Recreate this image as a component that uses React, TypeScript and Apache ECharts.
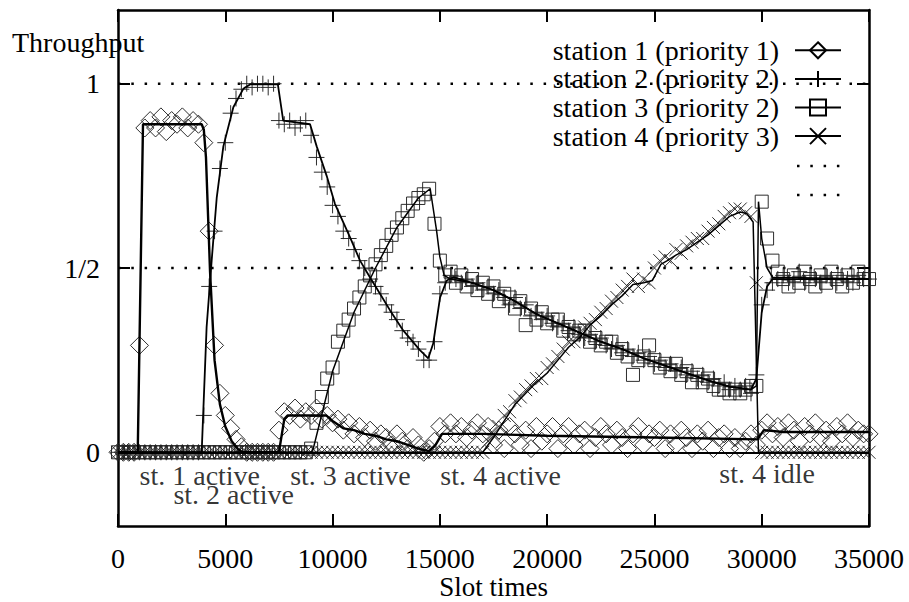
import React, { useEffect, useRef } from "react";
import * as echarts from "echarts";

const FONT = "'Liberation Serif', 'Times New Roman', serif";
const FS = 28;

// Sample grid (slot times) shared by the raw measurements
const slotTimes = [
  0, 250, 500, 750, 1000, 1250, 1500, 1750, 2000, 2250, 2500, 2750, 3000, 3250, 3500, 3750,
  4000, 4250, 4500, 4750, 5000, 5250, 5500, 5750, 6000, 6250, 6500, 6750, 7000, 7250, 7500, 7750,
  8000, 8250, 8500, 8750, 9000, 9250, 9500, 9750, 10000, 10250, 10500, 10750, 11000, 11250, 11500, 11750,
  12000, 12250, 12500, 12750, 13000, 13250, 13500, 13750, 14000, 14250, 14500, 14750, 15000, 15250, 15500, 15750,
  16000, 16250, 16500, 16750, 17000, 17250, 17500, 17750, 18000, 18250, 18500, 18750, 19000, 19250, 19500, 19750,
  20000, 20250, 20500, 20750, 21000, 21250, 21500, 21750, 22000, 22250, 22500, 22750, 23000, 23250, 23500, 23750,
  24000, 24250, 24500, 24750, 25000, 25250, 25500, 25750, 26000, 26250, 26500, 26750, 27000, 27250, 27500, 27750,
  28000, 28250, 28500, 28750, 29000, 29250, 29500, 29750, 30000, 30250, 30500, 30750, 31000, 31250, 31500, 31750,
  32000, 32250, 32500, 32750, 33000, 33250, 33500, 33750, 34000, 34250, 34500, 34750, 35000,
];

// Raw throughput samples (markers)
const station1Samples = [
  0, 0, 0, 0, 0.29, 0.88, 0.9, 0.88, 0.91, 0.87, 0.9, 0.89, 0.91, 0.88, 0.9, 0.89,
  0.84, 0.6, 0.29, 0.16, 0.1, 0.065, 0.035, 0.015, 0, 0, 0, 0, 0, 0, 0.06, 0.11,
  0.1, 0.12, 0.09, 0.11, 0.1, 0.12, 0.09, 0.1, 0.08, 0.09, 0.06, 0.08, 0.05, 0.07, 0.04, 0.06,
  0.03, 0.05, 0.04, 0.02, 0.05, 0.03, 0.01, 0.04, 0.02, 0, 0.01, 0.03, 0.07, 0.05, 0.08, 0.05,
  0.07, 0.04, 0.06, 0.08, 0.05, 0.07, 0.02, 0.06, 0.01, 0.07, 0.05, 0.02, 0.06, 0.01, 0.07, 0.03,
  0.05, 0.07, 0.01, 0.05, 0.07, 0.02, 0.05, 0.06, 0.01, 0.04, 0.07, 0.05, 0.02, 0.06, 0.04, 0.01,
  0.05, 0.07, 0.02, 0.05, 0.04, 0.06, 0.01, 0.05, 0.02, 0.06, 0.04, 0.01, 0.05, 0.03, 0.06, 0.01,
  0.04, 0.05, 0.01, 0.04, 0.01, 0.03, 0.05, 0.02, 0.06, 0.08, 0.05, 0.07, 0.04, 0.08, 0.06, 0.03,
  0.07, 0.05, 0.08, 0.04, 0.06, 0.03, 0.07, 0.05, 0.08, 0.04, 0.06, 0.05, 0.05,
];
const station2Samples = [
  0, 0, 0, 0, 0, 0, 0, 0, 0, 0, 0, 0, 0, 0, 0, 0,
  0.1, 0.45, 0.6, 0.77, 0.84, 0.92, 0.96, 0.985, 1.0, 0.99, 1.0, 1.0, 0.99, 1.0, 0.9, 0.89,
  0.9, 0.88, 0.89, 0.9, 0.86, 0.8, 0.76, 0.72, 0.67, 0.64, 0.6, 0.58, 0.55, 0.52, 0.5, 0.47,
  0.45, 0.43, 0.4, 0.38, 0.36, 0.33, 0.31, 0.3, 0.28, 0.25, 0.25, 0.3, 0.43, 0.46, 0.48, 0.47,
  0.46, 0.47, 0.45, 0.46, 0.44, 0.45, 0.43, 0.44, 0.42, 0.4, 0.42, 0.39, 0.4, 0.37, 0.38, 0.36,
  0.37, 0.35, 0.34, 0.35, 0.33, 0.34, 0.32, 0.31, 0.32, 0.3, 0.31, 0.29, 0.28, 0.29, 0.27, 0.28,
  0.26, 0.27, 0.25, 0.26, 0.24, 0.25, 0.23, 0.24, 0.22, 0.23, 0.21, 0.22, 0.2, 0.21, 0.19, 0.2,
  0.18, 0.19, 0.17, 0.18, 0.17, 0.18, 0.16, 0.21, 0.4, 0.44, 0.46, 0.47, 0.48, 0.46, 0.47, 0.49,
  0.46, 0.48, 0.47, 0.46, 0.48, 0.47, 0.46, 0.48, 0.47, 0.46, 0.48, 0.47, 0.47,
];
const station3Samples = [
  0, 0, 0, 0, 0, 0, 0, 0, 0, 0, 0, 0, 0, 0, 0, 0,
  0, 0, 0, 0, 0, 0, 0, 0, 0, 0, 0, 0, 0, 0, 0, 0,
  0, 0, 0, 0, 0.01, 0.08, 0.15, 0.2, 0.23, 0.3, 0.33, 0.36, 0.39, 0.42, 0.45, 0.48,
  0.51, 0.535, 0.56, 0.59, 0.61, 0.635, 0.655, 0.675, 0.69, 0.7, 0.715, 0.62, 0.52, 0.48, 0.49, 0.46,
  0.48, 0.45, 0.47, 0.44, 0.46, 0.43, 0.45, 0.41, 0.43, 0.42, 0.39, 0.41, 0.345, 0.39, 0.36, 0.38,
  0.35, 0.36, 0.36, 0.33, 0.34, 0.32, 0.33, 0.33, 0.3, 0.31, 0.29, 0.3, 0.3, 0.27, 0.28, 0.26,
  0.21, 0.25, 0.26, 0.29, 0.25, 0.23, 0.24, 0.22, 0.24, 0.21, 0.22, 0.19, 0.21, 0.19, 0.2, 0.18,
  0.17, 0.17, 0.16, 0.17, 0.16, 0.17, 0.18, 0.18, 0.68, 0.58, 0.52, 0.49, 0.47, 0.45, 0.48, 0.46,
  0.49, 0.47, 0.45, 0.48, 0.46, 0.49, 0.47, 0.45, 0.48, 0.46, 0.49, 0.47, 0.47,
];
const station4Samples = [
  0, 0, 0, 0, 0, 0, 0, 0, 0, 0, 0, 0, 0, 0, 0, 0,
  0, 0, 0, 0, 0, 0, 0, 0, 0, 0, 0, 0, 0, 0, 0, 0,
  0, 0, 0, 0, 0, 0, 0, 0, 0, 0, 0, 0, 0, 0, 0, 0,
  0, 0, 0, 0, 0, 0, 0, 0, 0, 0, 0, 0, 0, 0, 0, 0,
  0, 0, 0, 0, 0, 0.03, 0.05, 0.07, 0.1, 0.11, 0.14, 0.15, 0.17, 0.18, 0.2, 0.2,
  0.23, 0.24, 0.26, 0.28, 0.3, 0.3, 0.32, 0.34, 0.35, 0.36, 0.38, 0.39, 0.41, 0.42, 0.44, 0.45,
  0.47, 0.45, 0.47, 0.46, 0.5, 0.52, 0.53, 0.52, 0.55, 0.54, 0.56, 0.57, 0.58, 0.58, 0.6, 0.61,
  0.62, 0.64, 0.65, 0.66, 0.66, 0.65, 0.64, 0.46, 0, 0, 0, 0, 0, 0, 0, 0,
  0, 0, 0, 0, 0, 0, 0, 0, 0, 0, 0, 0, 0,
];

// Smoothed throughput curves (lines)
const station1LineX = [0, 920, 1165, 3900, 4000, 4100, 4290, 4500, 4750, 5000, 5300, 5600, 5800, 7500, 7750, 7900, 9700, 10000, 10500, 11000, 11500, 12000, 12500, 13000, 13500, 14000, 14500, 14800, 15100, 17000, 20000, 25000, 29800, 30100, 31000, 35000];
const station1LineY = [0, 0, 0.89, 0.89, 0.875, 0.8, 0.49, 0.25, 0.13, 0.07, 0.03, 0.008, 0, 0, 0.09, 0.1, 0.1, 0.085, 0.065, 0.06, 0.05, 0.045, 0.035, 0.03, 0.02, 0.01, 0.003, 0.02, 0.05, 0.05, 0.045, 0.04, 0.035, 0.06, 0.055, 0.055];
const station2LineX = [0, 3900, 4130, 4365, 4600, 4910, 5375, 5840, 6150, 7450, 7700, 8950, 9260, 9725, 10110, 10810, 11280, 11740, 12210, 12680, 13300, 14070, 14460, 14690, 14850, 15010, 15320, 15630, 16500, 17500, 18500, 19500, 20500, 21500, 22500, 23500, 24500, 25500, 26500, 27500, 28500, 29500, 29750, 30000, 30250, 30500, 35000];
const station2LineY = [0, 0, 0.34, 0.52, 0.69, 0.83, 0.936, 0.986, 0.998, 0.998, 0.9, 0.89, 0.83, 0.75, 0.674, 0.584, 0.52, 0.475, 0.43, 0.385, 0.33, 0.277, 0.255, 0.295, 0.358, 0.42, 0.466, 0.475, 0.46, 0.44, 0.41, 0.375, 0.35, 0.325, 0.3, 0.28, 0.255, 0.235, 0.215, 0.195, 0.178, 0.17, 0.2, 0.38, 0.45, 0.47, 0.47];
const station3LineX = [0, 9000, 9100, 10000, 11000, 12000, 13000, 14000, 14550, 14850, 15000, 15200, 15500, 16500, 17500, 18500, 19500, 20500, 21500, 22500, 23500, 24500, 25500, 26500, 27500, 28500, 29500, 29750, 29850, 30000, 30250, 30500, 35000];
const station3LineY = [0, 0, 0.01, 0.22, 0.38, 0.5, 0.61, 0.69, 0.715, 0.6, 0.53, 0.48, 0.47, 0.46, 0.44, 0.41, 0.375, 0.35, 0.325, 0.3, 0.28, 0.255, 0.235, 0.215, 0.195, 0.178, 0.17, 0.18, 0.68, 0.58, 0.5, 0.475, 0.47];
const station4LineX = [0, 17000, 17500, 18000, 18500, 19000, 19500, 20000, 20500, 21000, 21500, 22000, 22500, 23000, 23500, 24000, 24500, 24900, 25300, 25600, 26000, 26500, 27000, 27500, 28000, 28500, 29000, 29300, 29600, 29850, 35000];
const station4LineY = [0, 0, 0.04, 0.085, 0.13, 0.16, 0.19, 0.215, 0.25, 0.285, 0.31, 0.345, 0.37, 0.4, 0.425, 0.455, 0.46, 0.466, 0.51, 0.52, 0.535, 0.55, 0.57, 0.59, 0.615, 0.64, 0.652, 0.648, 0.625, 0, 0];

const stationNames = [
  "station 1 (priority 1)",
  "station 2 (priority 2)",
  "station 3 (priority 2)",
  "station 4 (priority 3)",
];

const xRange = [0, 35000];
const xTickStep = 5000;
const yRange = [-0.2, 1.2];
const yTickValues = [0, 0.5, 1];
const yTickLabels = ["0", "1/2", "1"];
const referenceLevels = [1, 0.5];

const annotationText = ["st. 1 active", "st. 2 active", "st. 3 active", "st. 4 active", "st. 4 idle"];
const annotationX = [980, 2560, 8000, 15000, 28000];
const annotationY = [-0.062, -0.114, -0.062, -0.062, -0.057];

const PLUS = "path://M0,8H16M8,0V16";
const CROSS = "path://M0,0L16,16M16,0L0,16";

const zip = (xs: number[], ys: number[]) => xs.map((x, i) => [x, ys[i]]);

export default function App() {
  const ref = useRef<HTMLDivElement>(null);
  useEffect(() => {
    const chart = echarts.init(ref.current!, null, { renderer: "svg" });

    const samples = [station1Samples, station2Samples, station3Samples, station4Samples];
    const lines = [
      zip(station1LineX, station1LineY),
      zip(station2LineX, station2LineY),
      zip(station3LineX, station3LineY),
      zip(station4LineX, station4LineY),
    ];
    const symbols = ["diamond", PLUS, "rect", CROSS];
    const markerSizes = [18, 16, 13, 13];
    const lineWidths = [2.4, 1.8, 1.5, 1.5];

    const series: any[] = [];
    referenceLevels.forEach((lv, k) => {
      series.push({
        type: "line",
        name: "ref" + k,
        data: [[xRange[0], lv], [xRange[1], lv]],
        symbol: "none",
        silent: true,
        lineStyle: { color: "#000", width: 2.5, type: [2.5, 10.8], cap: "butt" },
        z: 1,
      });
    });
    stationNames.forEach((nm, s) => {
      series.push({
        type: "scatter",
        name: nm + " samples",
        data: slotTimes.map((x, i) => [x, samples[s][i]]),
        symbol: symbols[s],
        symbolSize: markerSizes[s],
        silent: true,
        itemStyle: { color: "none", borderColor: "#222", borderWidth: 1, opacity: 0.95 },
        z: 2,
      });
      const ln: any = {
        type: "line",
        name: nm,
        data: lines[s],
        symbol: symbols[s],
        showSymbol: false,
        silent: true,
        lineStyle: { color: "#000", width: lineWidths[s] },
        itemStyle: { color: "none", borderColor: "#000", borderWidth: 1.2 },
        z: 3,
      };
      if (s === 0) {
        ln.markLine = {
          symbol: "none",
          silent: true,
          label: { show: false },
          lineStyle: { color: "#000", width: 2, type: "solid" },
          data: [{ yAxis: 0 }],
        };
      }
      series.push(ln);
    });
    series.push({
      type: "scatter",
      name: "annotations",
      data: annotationText.map((t, i) => ({ name: t, value: [annotationX[i], annotationY[i]] })),
      symbolSize: 1,
      silent: true,
      itemStyle: { color: "transparent" },
      label: {
        show: true,
        position: "right",
        distance: 0,
        formatter: "{b}",
        fontFamily: FONT,
        fontSize: FS,
        lineHeight: 17,
        color: "#000",
      },
      z: 5,
    });

    const axisLineStyle = { color: "#000", width: 2.5 };
    const tickStyle = { color: "#000", width: 2 };

    chart.setOption({
      animation: false,
      backgroundColor: "#fff",
      grid: {
        left: 118,
        right: 40,
        top: 10,
        bottom: 76,
        containLabel: false,
        outerBoundsMode: "none",
      },
      legend: {
        data: stationNames,
        orient: "vertical",
        align: "right",
        right: 67,
        top: 36,
        padding: 0,
        itemGap: 0,
        itemWidth: 46,
        itemHeight: 20,
        selectedMode: false,
        textStyle: {
          fontFamily: FONT,
          fontSize: FS,
          color: "#000",
          lineHeight: 28.6,
          padding: [0, 11, 0, 0],
        },
      },
      xAxis: [
        {
          type: "value",
          min: xRange[0],
          max: xRange[1],
          interval: xTickStep,
          position: "bottom",
          name: "Slot times",
          nameLocation: "middle",
          nameGap: 47,
          nameMoveOverlap: false,
          nameTextStyle: { fontFamily: FONT, fontSize: 27, color: "#000" },
          axisLine: { onZero: false, lineStyle: axisLineStyle },
          axisTick: { inside: true, length: 12, lineStyle: tickStyle },
          axisLabel: {
            fontFamily: FONT,
            fontSize: FS,
            color: "#000",
            margin: 18,
            formatter: (v: number) => String(v),
          },
          splitLine: { show: false },
        },
        {
          type: "value",
          min: xRange[0],
          max: xRange[1],
          interval: xTickStep,
          position: "top",
          axisLine: { onZero: false, lineStyle: axisLineStyle },
          axisTick: { inside: true, length: 12, lineStyle: tickStyle },
          axisLabel: { show: false },
          splitLine: { show: false },
        },
      ],
      yAxis: [
        {
          type: "value",
          min: yRange[0],
          max: yRange[1],
          position: "left",
          axisLine: { onZero: false, lineStyle: axisLineStyle },
          axisTick: { inside: true, length: 12, lineStyle: tickStyle, customValues: yTickValues },
          axisLabel: {
            fontFamily: FONT,
            fontSize: FS,
            color: "#000",
            margin: 18,
            customValues: yTickValues,
            formatter: (v: number) => {
              const k = yTickValues.findIndex((t) => Math.abs(t - v) < 1e-9);
              return k >= 0 ? yTickLabels[k] : "";
            },
          },
          splitLine: { show: false },
        },
        {
          type: "value",
          min: yRange[0],
          max: yRange[1],
          position: "right",
          axisLine: { onZero: false, lineStyle: axisLineStyle },
          axisTick: { inside: true, length: 12, lineStyle: tickStyle, customValues: yTickValues },
          axisLabel: { show: false },
          splitLine: { show: false },
        },
      ],
      graphic: [
        {
          type: "text",
          x: 12,
          y: 42,
          style: {
            text: "Throughput",
            font: `${FS}px ${FONT}`,
            fill: "#000",
            verticalAlign: "middle",
            align: "left",
          },
          z: 10,
        },
        {
          type: "line",
          shape: { x1: 797, y1: 166, x2: 843, y2: 166 },
          style: { stroke: "#000", lineWidth: 2.5, lineDash: [2.5, 10.8] },
        },
        {
          type: "line",
          shape: { x1: 797, y1: 195, x2: 843, y2: 195 },
          style: { stroke: "#000", lineWidth: 2.5, lineDash: [2.5, 10.8] },
        },
      ],
      series,
    });
    return () => chart.dispose();
  }, []);
  return (
    <div
      ref={ref}
      style={{ position: "fixed", left: 0, top: 0, width: 909, height: 602, background: "#fff" }}
    />
  );
}
